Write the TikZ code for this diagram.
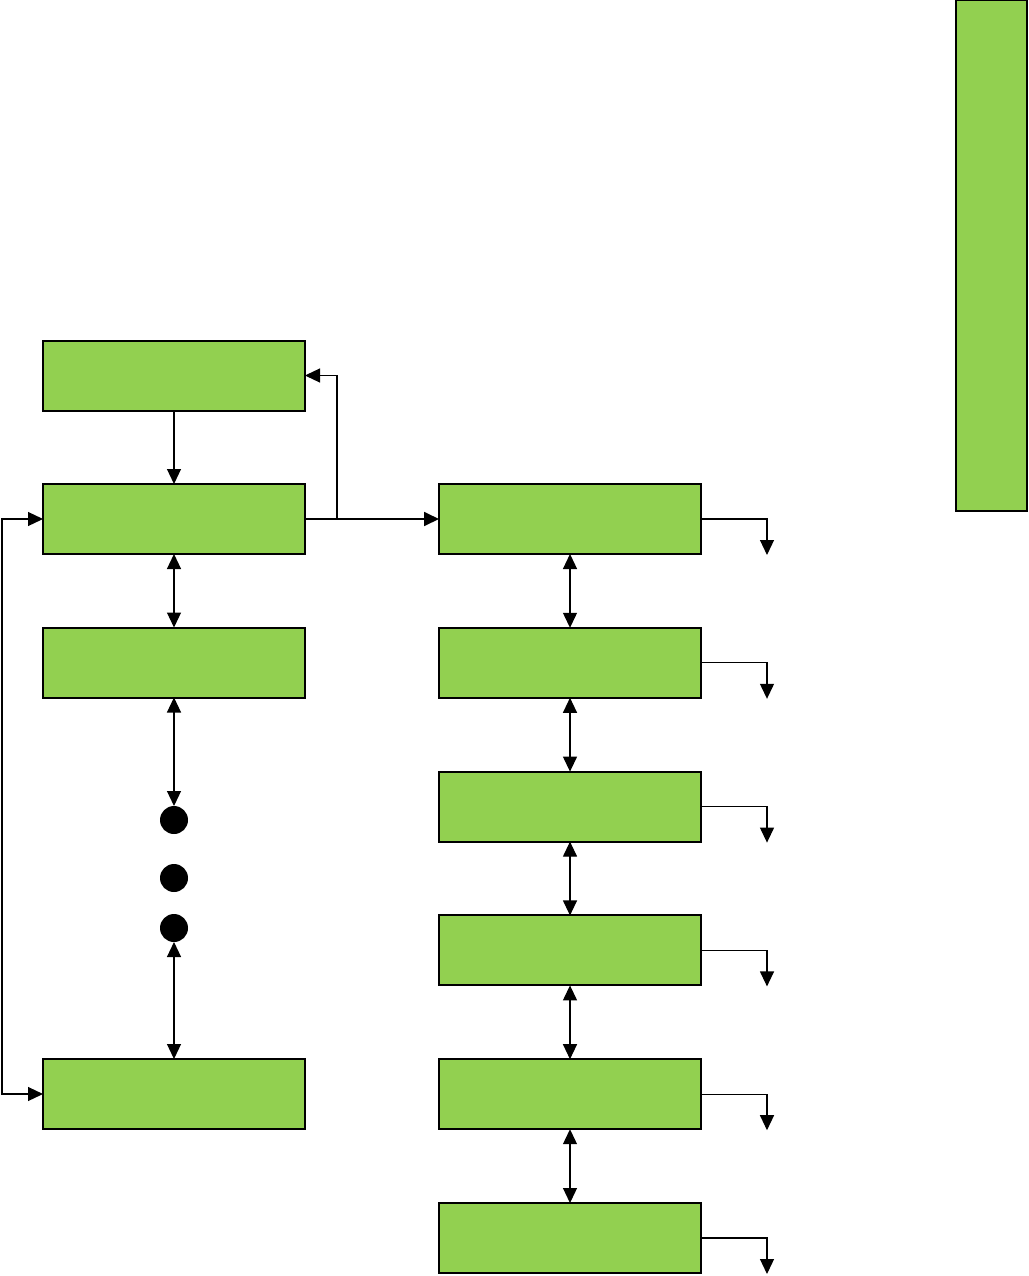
\documentclass[tikz,border=0pt]{standalone}
\usetikzlibrary{arrows.meta}
\definecolor{blockgreen}{HTML}{92D050}
\begin{document}
\begin{tikzpicture}[x=1pt,y=-1pt,
  blockbox/.style={draw=black, line width=2pt, fill=blockgreen, minimum width=262pt, minimum height=70pt, inner sep=0pt, outer sep=0pt},
  dotnode/.style={circle, fill=black, minimum size=28pt, inner sep=0pt, outer sep=0pt},
  link/.style={line width=1.2pt, -{Triangle[length=15pt,width=14pt]}},
  dlink/.style={line width=1.2pt, {Triangle[length=15pt,width=14pt]}-{Triangle[length=15pt,width=14pt]}}]
\useasboundingbox (0,0) rectangle (1028,1276);
% side bar
\node[blockbox, minimum width=71pt, minimum height=511pt] (side) at (991,255.5) {};
% left column
\node[blockbox] (l1) at (174,375.5) {};
\node[blockbox] (l2) at (174,519) {};
\node[blockbox] (l3) at (174,662.5) {};
\node[blockbox] (l4) at (174,1094) {};
\node[dotnode] (d1) at (174,820) {};
\node[dotnode] (d2) at (174,878) {};
\node[dotnode] (d3) at (174,928) {};
% right column
\foreach \i in {1,...,6} {
  \node[blockbox] (r\i) at (570,{519+143.8*(\i-1)}) {};
  \coordinate (o\i) at (767,{555+143.8*(\i-1)});
  \draw[link] (r\i.east) -| (o\i);
}
\foreach \i/\j in {1/2,2/3,3/4,4/5,5/6}
  \draw[dlink] (r\i.south) -- (r\j.north);
% left links
\draw[link] (l1.south) -- (l2.north);
\draw[dlink] (l2.south) -- (l3.north);
\draw[dlink] (l3.south) -- (d1.north);
\draw[dlink] (d3.south) -- (l4.north);
\draw[link, line width=1.8pt] (l2.east) -- (r1.west);
\coordinate (br) at (337,519);
\draw[link] (br) |- (l1.east);
\coordinate (fb) at (2,800);
\draw[dlink] (l2.west) -| (fb) |- (l4.west);
\end{tikzpicture}
\end{document}
